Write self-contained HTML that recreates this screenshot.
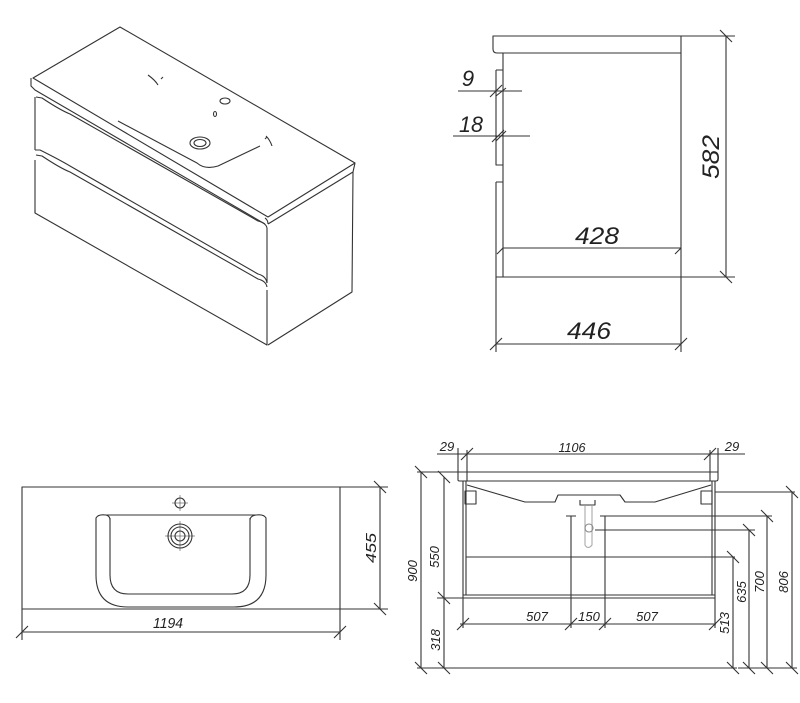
<!DOCTYPE html>
<html><head><meta charset="utf-8"><style>
html,body{margin:0;padding:0;background:#fff}
svg{display:block}
text{font-family:"Liberation Sans",sans-serif;font-style:italic;fill:#222}
</style></head><body>
<svg width="800" height="703" viewBox="0 0 800 703" xmlns="http://www.w3.org/2000/svg">
<g fill="none" stroke="#333" stroke-width="1.1" stroke-linejoin="round">
<!-- ISOMETRIC -->
<path d="M33,78 L120,27 L355,163 L268,217 Z"/>
<path d="M31,78 L31,86 L35,90 L265,224"/>
<path d="M265,218 Q268,220 268,224 M355,163 L353,172 L268,224"/>
<path d="M353,172 L352,292 L268,345"/>
<path d="M35,97 L35,150 M35,160 L35,213 L267,345 L267,290 M267,283 L267,228"/>
<path d="M36,97 L42,98 Q60,110 70,114 L258,221 Q266,223 267,228"/>
<path d="M36,155 L42,156 Q60,168 70,172 L258,279 Q266,281 267,287"/>
<path d="M35,150 L40,150 Q60,160 70,166 L258,274 Q266,276 267,283"/>
<path d="M35,213 L35,210"/>
<path d="M118,121 L197,163 Q205,170 218,166 L260,146"/>
<ellipse cx="200" cy="143" rx="10" ry="6"/>
<ellipse cx="200" cy="143" rx="6" ry="3.5"/>
<ellipse cx="225" cy="101" rx="5" ry="3"/>
<ellipse cx="215" cy="114" rx="1.5" ry="2.5"/>
<path d="M148,75 Q155,80 158,85 M161,79 L163,77 M266,136 Q270,140 272,146 M265,139 L267,137"/>

<!-- SIDE VIEW -->
<path d="M493,36 L681,36 L681,53 L497,53 Q493,53 493,49 Z"/>
<path d="M503,53 L503,277 L681,277 L681,53"/>
<path d="M496,70 L503,70 M496,70 L496,165 L503,165 M496,182 L503,182 M496,182 L496,277 L503,277"/>
<path d="M503,248 L681,248"/>
<path d="M681,36 L735,36 M681,277 L735,277 M726,36 L726,277 M720,30 L732,42 M720,271 L732,283"/>
<path d="M496,277 L496,352 M681,277 L681,352 M496,344 L681,344 M490,350 L502,338 M675,350 L687,338"/>
<path d="M503,248 L497,254 M681,248 L675,254"/>
<path d="M458,91 L522,91 M453,136 L530,136 M490,97 L502,85 M492,142 L504,130 M496,96 L506,88 M496,141 L506,131"/>

<!-- PLAN VIEW -->
<rect x="22" y="487" width="318" height="122"/>
<path d="M96,518 Q98,514 106,515 L256,515 Q264,514 266,518 L266,575 Q266,607 234,607 L128,607 Q96,607 96,575 Z"/>
<path d="M110,518 L110,575 Q110,594 128,594 L232,594 Q250,594 250,575 L250,518"/>
<path d="M106,515 Q110,516 110,520 M256,515 Q250,516 250,520"/>
<circle cx="180" cy="536" r="12"/>
<circle cx="180" cy="536" r="9"/>
<circle cx="180" cy="536" r="5"/>
<circle cx="180" cy="503" r="5"/>
<path d="M165,536 L195,536 M180,521 L180,551 M172,503 L188,503 M180,495 L180,511" stroke-width="0.5"/>
<path d="M340,487 L388,487 M340,609 L388,609 M380,487 L380,609 M374,481 L386,493 M374,603 L386,615"/>
<path d="M22,609 L22,640 M340,609 L340,640 M22,632 L340,632 M16,638 L28,626 M334,638 L346,626"/>

<!-- FRONT VIEW -->
<path d="M417,472 L718,472"/>
<path d="M458,472 L458,480 Q458,481 460,481 L716,481 Q718,481 718,479 L718,472"/>
<path d="M463,481 L463,598 L715,598 L715,481 M466,481 L466,595 L712,595 L712,481 M463,595 L715,595"/>
<path d="M467,485 L525,502 L555,502 L558,495 L620,495 L625,502 L655,502 L711,485"/>
<rect x="465" y="491" width="11" height="13"/>
<rect x="701" y="491" width="11" height="13"/>
<path d="M580,500 L580,505 L595,505 L595,500"/>
<path d="M585,506 L585,545 Q588,550 592,545 L592,506" stroke="#aaa"/>
<circle cx="589" cy="528" r="4" stroke="#888"/>
<path d="M466,557 L735,557 M605,516 L772,516 M595,530 L755,530 M715,492 L795,492"/>
<path d="M571,516 L571,628 M605,516 L605,628 M566,516 L576,516 M600,516 L610,516"/>
<path d="M460,624 L716,624 M463,598 L463,628 M715,598 L715,628 M457,630 L469,618 M565,630 L577,618 M599,630 L611,618 M709,630 L721,618"/>
<path d="M417,668 L737,668 M738,668 L797,668"/>
<path d="M421,472 L421,668 M444,477 L444,668 M437,598 L466,598 M415,466 L427,478 M415,662 L427,674 M438,471 L450,483 M438,592 L450,604 M438,662 L450,674"/>
<path d="M733,557 L733,668 M749,530 L749,668 M767,516 L767,668 M792,492 L792,668 M727,551 L739,563 M743,524 L755,536 M761,510 L773,522 M786,486 L798,498 M727,662 L739,674 M743,662 L755,674 M761,662 L773,674 M786,662 L798,674"/>
<path d="M467,454 L710,454 M467,450 L467,481 M710,450 L710,481 M437,454 L467,454 M710,454 L745,454 M461,460 L473,448 M704,460 L716,448 M458,448 L458,472 M718,448 L718,472"/>
</g>
<g>
<text x="597" y="244" font-size="24" text-anchor="middle" textLength="44" lengthAdjust="spacingAndGlyphs">428</text>
<text x="589" y="339" font-size="24" text-anchor="middle" textLength="44" lengthAdjust="spacingAndGlyphs">446</text>
<text x="468" y="86" font-size="22" text-anchor="middle">9</text>
<text x="471" y="132" font-size="22" text-anchor="middle" textLength="24" lengthAdjust="spacingAndGlyphs">18</text>
<text transform="translate(719,157) rotate(-90)" font-size="24" text-anchor="middle" textLength="44" lengthAdjust="spacingAndGlyphs">582</text>
<text x="168" y="628" font-size="15" text-anchor="middle" textLength="30" lengthAdjust="spacingAndGlyphs">1194</text>
<text transform="translate(376,548) rotate(-90)" font-size="15" text-anchor="middle" textLength="30" lengthAdjust="spacingAndGlyphs">455</text>
<text x="572" y="452" font-size="13" text-anchor="middle" textLength="27" lengthAdjust="spacingAndGlyphs">1106</text>
<text x="447" y="451" font-size="13" text-anchor="middle">29</text>
<text x="732" y="451" font-size="13" text-anchor="middle">29</text>
<text x="537" y="621" font-size="13" text-anchor="middle">507</text>
<text x="589" y="621" font-size="13" text-anchor="middle">150</text>
<text x="647" y="621" font-size="13" text-anchor="middle">507</text>
<text transform="translate(439,557) rotate(-90)" font-size="13" text-anchor="middle">550</text>
<text transform="translate(417,571) rotate(-90)" font-size="13" text-anchor="middle">900</text>
<text transform="translate(440,640) rotate(-90)" font-size="13" text-anchor="middle">318</text>
<text transform="translate(729,623) rotate(-90)" font-size="13" text-anchor="middle">513</text>
<text transform="translate(746,592) rotate(-90)" font-size="13" text-anchor="middle">635</text>
<text transform="translate(764,582) rotate(-90)" font-size="13" text-anchor="middle">700</text>
<text transform="translate(788,582) rotate(-90)" font-size="13" text-anchor="middle">806</text>
</g>
</svg>
</body></html>
